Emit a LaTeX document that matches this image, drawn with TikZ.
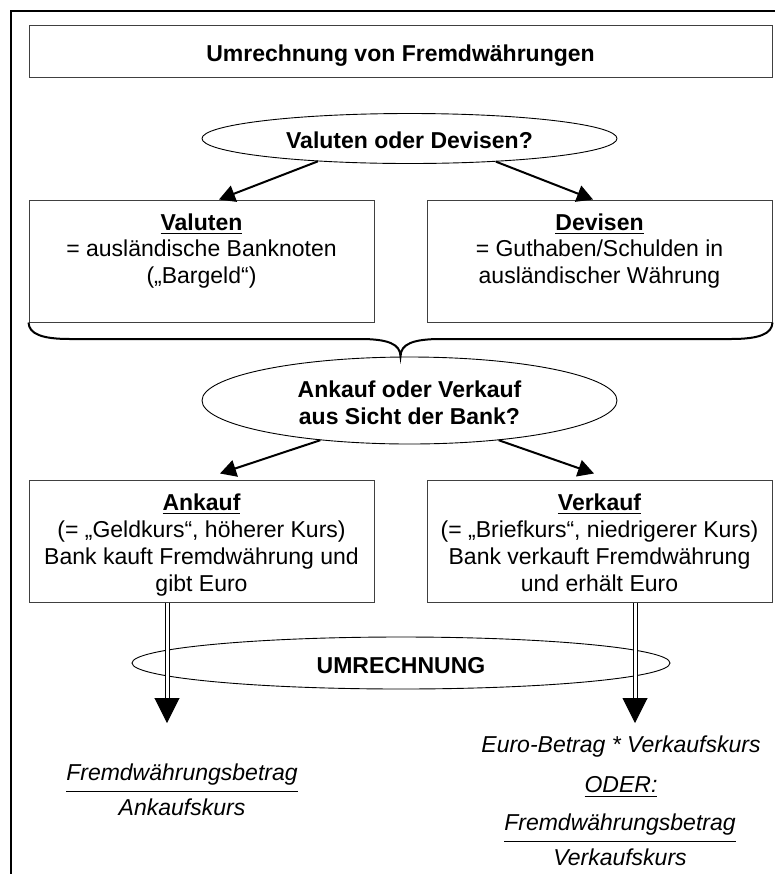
\documentclass[tikz,border=0pt]{standalone}
\usepackage{fontspec}
\setmainfont{Liberation Sans}
\renewcommand{\normalsize}{\fontsize{11.5pt}{13.4pt}\selectfont}
\usetikzlibrary{shapes.geometric,arrows.meta,calc}

\begin{document}
\begin{tikzpicture}
  [x=0.5pt,y=-0.5pt,line cap=butt,
   % Styles
   frame line/.style={line width=1pt},
   brace line/.style={line width=1pt},
   info box/.style={draw=black!75,line width=0.5pt,inner sep=0pt,align=center,
     minimum width=172.5pt,minimum height=61pt},
   question/.style={draw,ellipse,line width=0.45pt,inner sep=0pt,align=center,font=\bfseries},
   choice arrow/.style={line width=1pt,-{Triangle[length=8pt,width=8.5pt]}},
   result arrow/.style={double,double distance=1.5pt,line width=0.5pt,
     -{Triangle[length=12.5pt,width=12.5pt]}},
   result text/.style={font=\itshape,inner sep=0pt}]

  \useasboundingbox (0,0) rectangle (775,874);

  % Frame
  \draw[frame line] (11,880) -- (11,11) -- (780,11);

  % Title
  \node[info box,minimum width=371.5pt,minimum height=26pt,font=\bfseries,
    text height=10pt,text depth=0pt] (title)
    at (400.5,51) {Umrechnung von Fremdwährungen};

  % First question
  \node[question,minimum width=207.5pt,minimum height=25pt,text height=10.4pt] (q1)
    at (409.5,138.5) {Valuten oder Devisen?};

  \node[info box] (val) at (201.5,261)
    {\underline{\textbf{Valuten}}\\= ausländische Banknoten\\(„Bargeld“)\\[-5pt]\strut};
  \node[info box] (dev) at (599.5,261)
    {\underline{\textbf{Devisen}}\\= Guthaben/Schulden in\\ausländischer Währung\\[-5pt]\strut};

  \draw[choice arrow] (q1.194) -- ([shift={(17.5,0)}]val.north);
  \draw[choice arrow] (q1.345) -- ([shift={(-6.5,0)}]dev.north);

  % Brace below both boxes
  \coordinate (braceTip) at ($(val.south west)!.5!(dev.south east)+(0,34)$);
  \draw[brace line] (val.south west) .. controls (29,334) and (42,339) .. (70,339)
    -- (360,339) .. controls (388,339) and (400.5,344) .. (braceTip)
    .. controls (400.5,344) and (413,339) .. (441,339)
    -- (731,339) .. controls (759,339) and (772,334) .. (dev.south east);

  % Second question
  \node[question,minimum width=207.5pt,minimum height=43.5pt] (q2) at (409.5,400.5)
    {\rule{0pt}{10.9pt}Ankauf oder Verkauf\\aus Sicht der Bank?};

  \node[info box] (ank) at (201.5,541)
    {\rule{0pt}{14pt}\underline{\textbf{Ankauf}}\\(= „Geldkurs“, höherer Kurs)\\Bank kauft Fremdwährung und\\gibt Euro\strut};
  \node[info box] (ver) at (599.5,541)
    {\rule{0pt}{14pt}\underline{\textbf{Verkauf}}\\(= „Briefkurs“, niedrigerer Kurs)\\Bank verkauft Fremdwährung\\und erhält Euro\strut};

  \draw[choice arrow] (q2.204) -- ([shift={(18.5,-6)}]ank.north);
  \draw[choice arrow] (q2.336) -- ([shift={(-5.5,-6)}]ver.north);

  % Conversion
  \node[question,minimum width=269pt,minimum height=26pt,text height=10.2pt] (q3)
    at (401,663) {UMRECHNUNG};

  \coordinate (ankRes) at (167,723);
  \coordinate (verRes) at (635,723);
  \draw[result arrow] ([xshift=-17.25pt]ank.south) -- (ankRes);
  \draw[result arrow] ([xshift=17.75pt]ver.south) -- (verRes);

  % Formulas
  \renewcommand{\arraystretch}{1.3}
  \node[result text] (fracA) at (182,791)
    {\begin{tabular}{@{}c@{}}Fremdwährungsbetrag\\\hline Ankaufskurs\end{tabular}};
  \node[result text] (euro) at (621,747) {Euro-Betrag * Verkaufskurs};
  \node[result text] (oder) at (621,787) {\underline{ODER:}};
  \node[result text] (fracV) at (620,841)
    {\begin{tabular}{@{}c@{}}Fremdwährungsbetrag\\\hline Verkaufskurs\end{tabular}};
\end{tikzpicture}
\end{document}
